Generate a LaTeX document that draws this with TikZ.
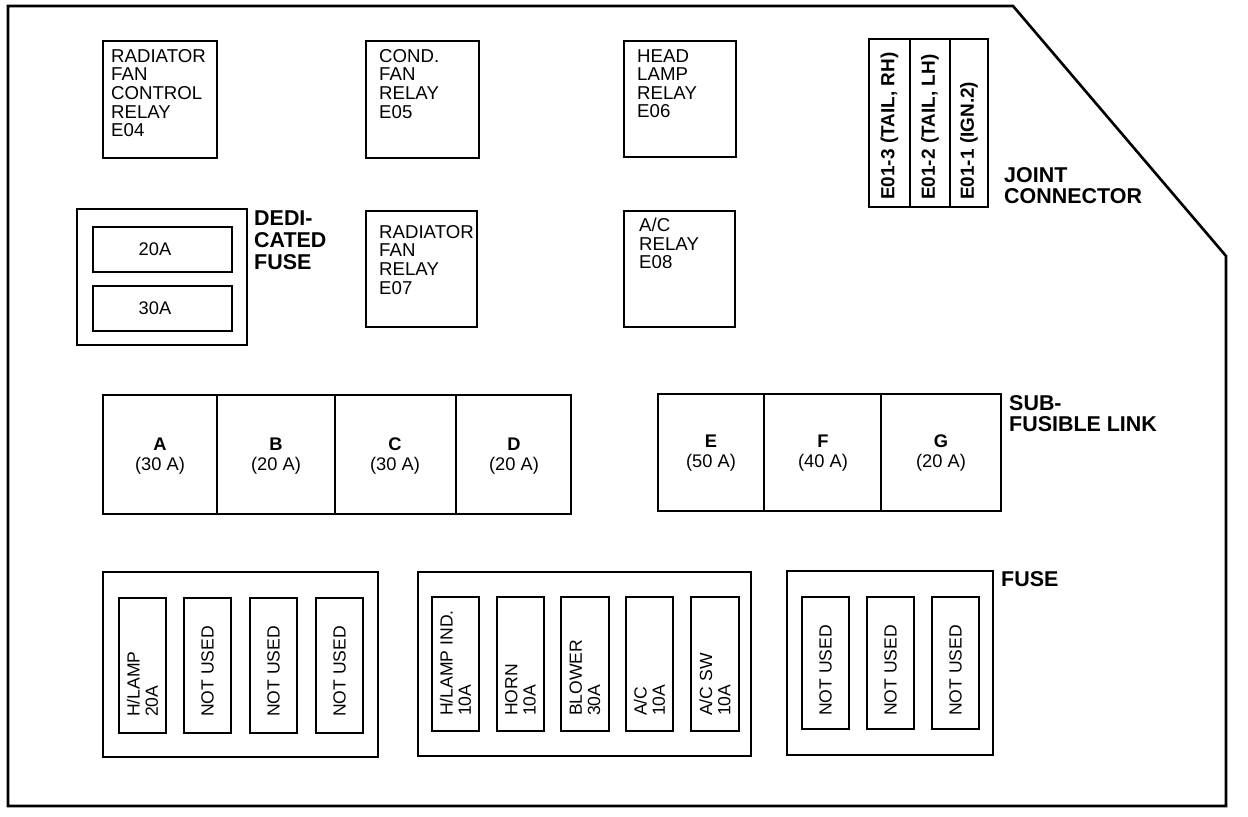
\documentclass[tikz,border=0pt]{standalone}
\usepackage{fontspec}
\setmainfont{Liberation Sans}

\tikzset{
  relaytext/.style={inner sep=0pt,anchor=north west,align=left,
    font=\fontsize{10.6}{10.6}\selectfont},
  tagtext/.style={inner sep=0pt,anchor=north west,align=left,
    font=\bfseries\fontsize{12.2}{12.4}\selectfont},
  linktext/.style={inner sep=0pt,align=center,
    font=\fontsize{10.4}{11.4}\selectfont},
  fusetext/.style={inner sep=0pt,rotate=90,anchor=west,align=left,
    font=\fontsize{10}{10.4}\selectfont},
  jointtext/.style={inner sep=0pt,rotate=90,anchor=west,
    font=\bfseries\fontsize{10.8}{11}\selectfont}
}

\begin{document}
\begin{tikzpicture}[x=0.02cm,y=-0.02cm,line width=1.4pt]
  \useasboundingbox (0,0) rectangle (1248,816);
  % outline of the box
  \draw[line width=1.5pt] (8,6)--(1013,6)--(1226,256)--(1226,806)--(8,806)--cycle;

  % relays
  \draw (103,41) rectangle (217,158);
  \node[relaytext] (e04) at (110,48) {RADIATOR\\FAN\\CONTROL\\RELAY\\E04};
  \draw (366,41) rectangle (479,158);
  \node[relaytext] (e05) at (378,48) {COND.\\FAN\\RELAY\\E05};
  \draw (624,41) rectangle (736,157);
  \node[relaytext] (e06) at (636,48) {HEAD\\LAMP\\RELAY\\E06};
  \draw (366,211) rectangle (477,327);
  \node[relaytext] (e07) at (378,224) {RADIATOR\\FAN\\RELAY\\E07};
  \draw (624,211) rectangle (735,327);
  \node[relaytext] (e08) at (638,217) {A/C\\RELAY\\E08};

  % joint connector
  \draw (869,39) rectangle (988,207);
  \draw (910,39)--(910,207);
  \draw (950,39)--(950,207);
  \node[jointtext] (j3) at (889.5,201) {E01-3 (TAIL, RH)};
  \node[jointtext] (j2) at (930,201) {E01-2 (TAIL, LH)};
  \node[jointtext] (j1) at (969,201) {E01-1 (IGN.2)};
  \node[tagtext] (joint) at (1003,166) {JOINT\\CONNECTOR};

  % dedicated fuse
  \draw (77,209) rectangle (247,345);
  \draw (93,227) rectangle (232,272);
  \draw (93,286) rectangle (232,331);
  \node[linktext] (d20) at (155,249) {20A};
  \node[linktext] (d30) at (155,308) {30A};
  \node[tagtext] (dedi) at (253,210) {DEDI-\\CATED\\FUSE};

  % fusible links
  \draw (103,395) rectangle (571,514);
  \draw (217,395)--(217,514);
  \draw (335,395)--(335,514);
  \draw (456,395)--(456,514);
  \node[linktext] (la) at (160,456) {\textbf{A}\\(30 A)};
  \node[linktext] (lb) at (276,456) {\textbf{B}\\(20 A)};
  \node[linktext] (lc) at (395,456) {\textbf{C}\\(30 A)};
  \node[linktext] (ld) at (514,456) {\textbf{D}\\(20 A)};
  \draw (658,394) rectangle (1001,511);
  \draw (764,394)--(764,511);
  \draw (881,394)--(881,511);
  \node[linktext] (le) at (711,453) {\textbf{E}\\(50 A)};
  \node[linktext] (lf) at (823,453) {\textbf{F}\\(40 A)};
  \node[linktext] (lg) at (941,453) {\textbf{G}\\(20 A)};
  \node[tagtext] (sub) at (1008,394) {SUB-\\FUSIBLE LINK};

  % fuses, left group
  \draw (103,572) rectangle (378,757);
  \draw (119,598) rectangle (166,733);
  \draw (184,598) rectangle (231,733);
  \draw (250,598) rectangle (297,733);
  \draw (316,598) rectangle (363,733);
  \node[fusetext] (f1) at (142.5,718) {H/LAMP\\20A};
  \node[fusetext] (f2) at (207.5,718) {NOT USED};
  \node[fusetext] (f3) at (273.5,718) {NOT USED};
  \node[fusetext] (f4) at (339.5,718) {NOT USED};

  % fuses, middle group
  \draw (418,572) rectangle (751,756);
  \draw (432,597) rectangle (479,731);
  \draw (497,597) rectangle (544,731);
  \draw (561,597) rectangle (609,731);
  \draw (626,597) rectangle (673,731);
  \draw (691,597) rectangle (739,731);
  \node[fusetext] (f5) at (455.5,717) {H/LAMP IND.\\10A};
  \node[fusetext] (f6) at (520.5,717) {HORN\\10A};
  \node[fusetext] (f7) at (585,717) {BLOWER\\30A};
  \node[fusetext] (f8) at (649.5,717) {A/C\\10A};
  \node[fusetext] (f9) at (715,717) {A/C SW\\10A};

  % fuses, right group
  \draw (787,571) rectangle (993,755);
  \draw (802,597) rectangle (849,729);
  \draw (867,597) rectangle (914,729);
  \draw (932,597) rectangle (979,729);
  \node[fusetext] (f10) at (825.5,717) {NOT USED};
  \node[fusetext] (f11) at (890.5,717) {NOT USED};
  \node[fusetext] (f12) at (955.5,717) {NOT USED};
  \node[tagtext] (fuse) at (1000,570) {FUSE};
\end{tikzpicture}
\end{document}
